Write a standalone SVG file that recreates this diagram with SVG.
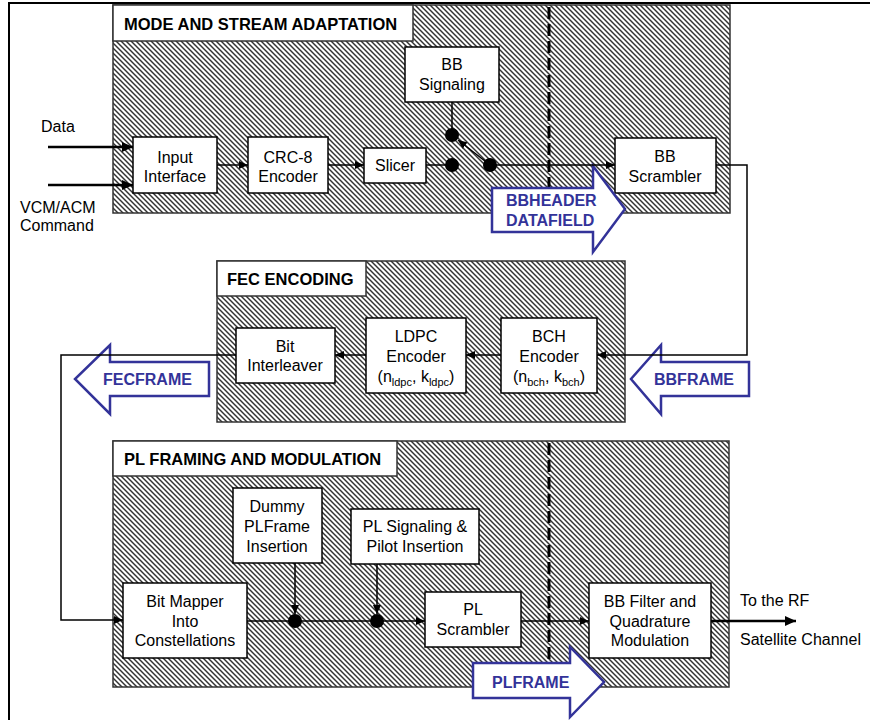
<svg xmlns="http://www.w3.org/2000/svg" width="870" height="720" viewBox="0 0 870 720">
<defs>
<pattern id="hatch" patternUnits="userSpaceOnUse" width="5" height="5">
<rect width="5" height="5" fill="#fff"/>
<path d="M-1,-1 L6,6 M-1,4 L1,6 M4,-1 L6,1" stroke="#333" stroke-width="1.45"/>
</pattern>
<marker id="ah" markerUnits="userSpaceOnUse" markerWidth="10" markerHeight="8" refX="9" refY="4" orient="auto"><path d="M0,0 L9,4 L0,8 z" fill="#000"/></marker>
<marker id="ahb" markerUnits="userSpaceOnUse" markerWidth="12" markerHeight="10" refX="11" refY="5" orient="auto"><path d="M0,0 L11,5 L0,10 z" fill="#000"/></marker>
</defs>
<style>
.blk{fill:url(#hatch);stroke:#333;stroke-width:1.5}
.ttl{fill:#fff;stroke:#333;stroke-width:1.5}
.nd{fill:#fff;stroke:#000;stroke-width:1.5}
text{font-family:"Liberation Sans",Arial,sans-serif;font-size:16px;fill:#000}
.c{text-anchor:middle}
.b{font-weight:bold;font-size:16.5px}
.sub{font-size:11px}
.w{stroke:#000;stroke-width:1.5;fill:none}
.wa{stroke:#000;stroke-width:1.5;fill:none;marker-end:url(#ah)}
.wb{stroke:#000;stroke-width:2.5;fill:none;marker-end:url(#ahb)}
.blue{fill:#fff;stroke:#333399;stroke-width:2.5}
.bt{fill:#333399;font-weight:bold;font-size:16px}
.dash{stroke:#000;stroke-width:3;stroke-dasharray:12 5;fill:none}
.frame{stroke:#000;stroke-width:2;fill:none}
.dot{fill:#000}
</style>

<path class="frame" d="M9,720 V3 H870"/>

<g id="block-mode">
<rect class="blk" x="113" y="5" width="617" height="208"/>
<rect class="ttl" x="113" y="5" width="300" height="36"/>
<text class="b" x="124" y="30">MODE AND STREAM ADAPTATION</text>
</g>
<g id="block-fec">
<rect class="blk" x="217" y="261" width="408" height="161"/>
<rect class="ttl" x="217" y="261" width="149" height="35"/>
<text class="b" x="227" y="285">FEC ENCODING</text>
</g>
<g id="block-pl">
<rect class="blk" x="113" y="441" width="616" height="246"/>
<rect class="ttl" x="113" y="441" width="284" height="35"/>
<text class="b" x="124" y="465">PL FRAMING AND MODULATION</text>
</g>

<g id="dividers">
<path class="dash" d="M549,7 V212"/>
<path class="dash" d="M549,443 V686"/>
</g>

<g id="input-interface">
<rect class="nd" x="133" y="137" width="84" height="56"/>
<text class="c" x="175" y="163">Input</text>
<text class="c" x="175" y="182">Interface</text>
</g>
<g id="crc8-encoder">
<rect class="nd" x="248" y="137" width="80" height="56"/>
<text class="c" x="288" y="163">CRC-8</text>
<text class="c" x="288" y="182">Encoder</text>
</g>
<g id="slicer">
<rect class="nd" x="364" y="148" width="62" height="35"/>
<text class="c" x="395" y="171">Slicer</text>
</g>
<g id="bb-signaling">
<rect class="nd" x="405" y="47" width="94" height="55"/>
<text class="c" x="452" y="70">BB</text>
<text class="c" x="452" y="90">Signaling</text>
</g>
<g id="bb-scrambler">
<rect class="nd" x="615" y="138" width="101" height="55"/>
<text class="c" x="665" y="162">BB</text>
<text class="c" x="665" y="182">Scrambler</text>
</g>

<g id="bit-interleaver">
<rect class="nd" x="236" y="328" width="99" height="55"/>
<text class="c" x="285" y="352">Bit</text>
<text class="c" x="285" y="371">Interleaver</text>
</g>
<g id="ldpc-encoder">
<rect class="nd" x="366" y="318" width="100" height="75"/>
<text class="c" x="416" y="342">LDPC</text>
<text class="c" x="416" y="362">Encoder</text>
<text class="c" x="416" y="382">(n<tspan class="sub" dy="4">ldpc</tspan><tspan dy="-4">, k</tspan><tspan class="sub" dy="4">ldpc</tspan><tspan dy="-4">)</tspan></text>
</g>
<g id="bch-encoder">
<rect class="nd" x="501" y="318" width="96" height="75"/>
<text class="c" x="549" y="342">BCH</text>
<text class="c" x="549" y="362">Encoder</text>
<text class="c" x="549" y="382">(n<tspan class="sub" dy="4">bch</tspan><tspan dy="-4">, k</tspan><tspan class="sub" dy="4">bch</tspan><tspan dy="-4">)</tspan></text>
</g>

<g id="bit-mapper">
<rect class="nd" x="123" y="583" width="124" height="75"/>
<text class="c" x="185" y="607">Bit Mapper</text>
<text class="c" x="185" y="627">Into</text>
<text class="c" x="185" y="646">Constellations</text>
</g>
<g id="dummy-plframe">
<rect class="nd" x="233" y="488" width="89" height="75"/>
<text class="c" x="277" y="512">Dummy</text>
<text class="c" x="277" y="532">PLFrame</text>
<text class="c" x="277" y="552">Insertion</text>
</g>
<g id="pl-signaling">
<rect class="nd" x="351" y="509" width="128" height="55"/>
<text class="c" x="415" y="532">PL Signaling &amp;</text>
<text class="c" x="415" y="552">Pilot Insertion</text>
</g>
<g id="pl-scrambler">
<rect class="nd" x="425" y="592" width="96" height="55"/>
<text class="c" x="473" y="615">PL</text>
<text class="c" x="473" y="635">Scrambler</text>
</g>
<g id="bb-filter">
<rect class="nd" x="589" y="583" width="122" height="75"/>
<text class="c" x="650" y="607">BB Filter and</text>
<text class="c" x="650" y="627">Quadrature</text>
<text class="c" x="650" y="646">Modulation</text>
</g>

<g id="frame-arrows">
<g id="bbheader-arrow">
<path class="blue" d="M492,188 H593 V166 L625,209 L593,252 V232 H492 Z"/>
<text class="bt" x="506" y="206">BBHEADER</text>
<text class="bt" x="506" y="226">DATAFIELD</text>
</g>
<g id="bbframe-arrow">
<path class="blue" d="M749,362 H661 V345 L631,379 L661,414 V396 H749 Z"/>
<text class="bt" x="654" y="385">BBFRAME</text>
</g>
<g id="fecframe-arrow">
<path class="blue" d="M209,362 H110 V345 L75,379 L110,414 V396 H209 Z"/>
<text class="bt" x="103" y="385">FECFRAME</text>
</g>
<g id="plframe-arrow">
<path class="blue" d="M473,663 H570 V647 L604,682 L570,717 V698 H473 Z"/>
<text class="bt" x="492" y="688">PLFRAME</text>
</g>
</g>

<g id="labels">
<text x="41" y="132">Data</text>
<text x="20" y="213">VCM/ACM</text>
<text x="20" y="231">Command</text>
<text x="740" y="606">To the RF</text>
<text x="740" y="645">Satellite Channel</text>
</g>

<g id="connectors">
<path class="wb" d="M48,147 H133"/>
<path class="wb" d="M48,185 H133"/>
<path class="wa" d="M217,165 H248"/>
<path class="wa" d="M328,165 H364"/>
<path class="w" d="M426,165 H452"/>
<path class="w" d="M452,102 V135"/>
<path class="wa" d="M490,165 L458,140"/>
<path class="wa" d="M490,165 H615"/>
<path class="wa" d="M716,165 H747 V355 H597"/>
<path class="wa" d="M501,355 H466"/>
<path class="wa" d="M366,355 H335"/>
<path class="wa" d="M236,355 H61 V620 H123"/>
<path class="w" d="M247,621 H295"/>
<path class="w" d="M295,621 H377"/>
<path class="wa" d="M377,621 H425"/>
<path class="wa" d="M295,563 V614"/>
<path class="wa" d="M377,564 V614"/>
<path class="wa" d="M521,621 H589"/>
<path class="wb" d="M711,621 H796"/>
<circle class="dot" cx="452" cy="135" r="7"/>
<circle class="dot" cx="452" cy="165" r="7"/>
<circle class="dot" cx="490" cy="165" r="7"/>
<circle class="dot" cx="295" cy="621" r="7"/>
<circle class="dot" cx="377" cy="621" r="7"/>
</g>
</svg>
